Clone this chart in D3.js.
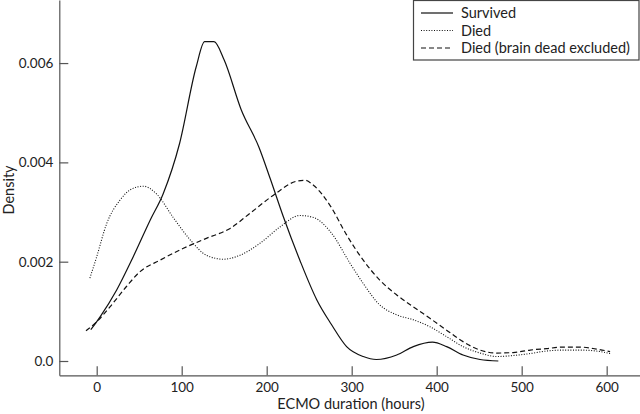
<!DOCTYPE html>
<html>
<head>
<meta charset="utf-8">
<script src="https://cdn.jsdelivr.net/npm/d3@7"></script>
<style>
  body { margin: 0; background: #fff; }
  svg { display: block; font-family: Lato, "DejaVu Sans", sans-serif; }
</style>
</head>
<body>
<svg id="chart" width="640" height="414"></svg>
<script>
// Series values: [hours, density]
var survived = [
    [-7, 0.00063], [4, 0.00089], [23.5, 0.00143], [43, 0.0021], [63, 0.00284],
    [78, 0.00336], [97.5, 0.00438], [117, 0.00592], [127, 0.00643], [138, 0.00643],
    [150, 0.00606], [170, 0.00506], [191, 0.0043], [204, 0.00368], [219.5, 0.00291],
    [239, 0.00203], [259, 0.00123], [276, 0.00074], [294, 0.00029], [313.6, 0.00009],
    [329, 0.00003], [353, 0.00012], [372.5, 0.00029], [395, 0.00038], [411.7, 0.00029],
    [431, 0.00012], [451, 0.00003], [472.5, 0.0]
];

var died = [
    [-8, 0.00167], [0, 0.0021], [11.8, 0.00277], [27.4, 0.00324], [43, 0.00348],
    [55, 0.00352], [70.6, 0.00336], [90, 0.00289], [110, 0.00244], [129, 0.00213],
    [149, 0.00205], [168.6, 0.00213], [192, 0.00237], [215.6, 0.0027], [239, 0.00293],
    [255, 0.00289], [276, 0.00258], [298, 0.00197], [313.6, 0.00156], [333, 0.00113],
    [353, 0.00093], [372.5, 0.00083], [392, 0.00069], [411.7, 0.00049], [431, 0.00029],
    [451, 0.00016], [470.6, 0.00009], [490, 0.00011], [510, 0.00015], [529, 0.0002],
    [549, 0.00022], [568.6, 0.00022], [588, 0.0002], [604, 0.00015]
];

var diedExcl = [
    [-12.6, 0.00061], [0, 0.00079], [15.6, 0.00109], [35, 0.0015], [51, 0.0018],
    [74.5, 0.00203], [102, 0.00227], [129, 0.00247], [157, 0.00267], [180, 0.00297],
    [208, 0.00334], [235, 0.00362], [245, 0.00364], [255, 0.00354], [275, 0.00312],
    [294, 0.00254], [313.6, 0.00203], [333, 0.00163], [353, 0.00133], [372.5, 0.00109],
    [392, 0.00086], [411.7, 0.00062], [431, 0.00039], [451, 0.00022], [470.6, 0.00016],
    [490, 0.00017], [510, 0.00022], [529, 0.00025], [549, 0.00028], [568.6, 0.00028],
    [588, 0.00024], [604, 0.00019]
];

var xTicks = [0, 100, 200, 300, 400, 500, 600];
var yTicks = [0, 0.002, 0.004, 0.006];
var legendLabels = ["Survived", "Died", "Died (brain dead excluded)"];

// Line styles for the three series
var dashes = [null, "1,1.6", "5,3"];

var svg = d3.select("#chart");

// Scales
var xScale = d3.scaleLinear()
    .domain([-44, 639.2])
    .range([59.3, 640]);

var yScale = d3.scaleLinear()
    .domain([-0.000288, 0.00727])
    .range([375.3, 0]);

// Axes (ticks point inward)
var xAxis = d3.axisBottom(xScale)
    .tickValues(xTicks)
    .tickSizeInner(-9)
    .tickSizeOuter(0)
    .tickPadding(7);

var yAxis = d3.axisLeft(yScale)
    .tickValues(yTicks)
    .tickSizeInner(-9)
    .tickSizeOuter(0)
    .tickPadding(6)
    .tickFormat(function (d) { return d === 0 ? "0.0" : d3.format(".3f")(d); });

var gx = svg.append("g")
    .attr("transform", "translate(0,375.3)")
    .call(xAxis);

var gy = svg.append("g")
    .attr("transform", "translate(59.3,0)")
    .call(yAxis);

[gx, gy].forEach(function (g) {
    g.select(".domain").attr("stroke", "#555").attr("stroke-width", 1.2);
    g.selectAll(".tick line").attr("stroke", "#555").attr("stroke-width", 1.2);
    g.selectAll(".tick text")
        .attr("fill", "#222")
        .style("font-size", "13.5px")
        .style("font-family", "Lato, 'DejaVu Sans', sans-serif");
});

// Axis titles
svg.append("text")
    .attr("x", 351)
    .attr("y", 409)
    .attr("text-anchor", "middle")
    .attr("fill", "#222")
    .style("font-size", "14.5px")
    .text("ECMO duration (hours)");

svg.append("text")
    .attr("transform", "translate(13.5,190) rotate(-90)")
    .attr("text-anchor", "middle")
    .attr("fill", "#222")
    .style("font-size", "14.5px")
    .text("Density");

// Density curves
var line = d3.line()
    .x(function (d) { return xScale(d[0]); })
    .y(function (d) { return yScale(d[1]); })
    .curve(d3.curveMonotoneX);

var series = [survived, died, diedExcl];

svg.selectAll(".curve")
    .data(series)
    .enter()
    .append("path")
    .attr("class", "curve")
    .attr("d", line)
    .attr("fill", "none")
    .attr("stroke", "#111")
    .attr("stroke-width", function (d, i) { return i === 1 ? 1.1 : 1.2; })
    .attr("stroke-dasharray", function (d, i) { return dashes[i]; });

// Legend
var legend = svg.append("g");

legend.append("rect")
    .attr("x", 413.5)
    .attr("y", 0.5)
    .attr("width", 225.5)
    .attr("height", 59.5)
    .attr("fill", "#fff")
    .attr("stroke", "#444")
    .attr("stroke-width", 1.2);

legend.selectAll("line")
    .data(legendLabels)
    .enter()
    .append("line")
    .attr("x1", 421)
    .attr("x2", 453)
    .attr("y1", function (d, i) { return 13 + i * 17.5; })
    .attr("y2", function (d, i) { return 13 + i * 17.5; })
    .attr("stroke", "#111")
    .attr("stroke-width", 1.2)
    .attr("stroke-dasharray", function (d, i) { return dashes[i]; });

legend.selectAll("text")
    .data(legendLabels)
    .enter()
    .append("text")
    .attr("x", 461)
    .attr("y", function (d, i) { return 18 + i * 17.5; })
    .attr("fill", "#222")
    .style("font-size", "14.5px")
    .text(function (d) { return d; });
</script>
</body>
</html>
